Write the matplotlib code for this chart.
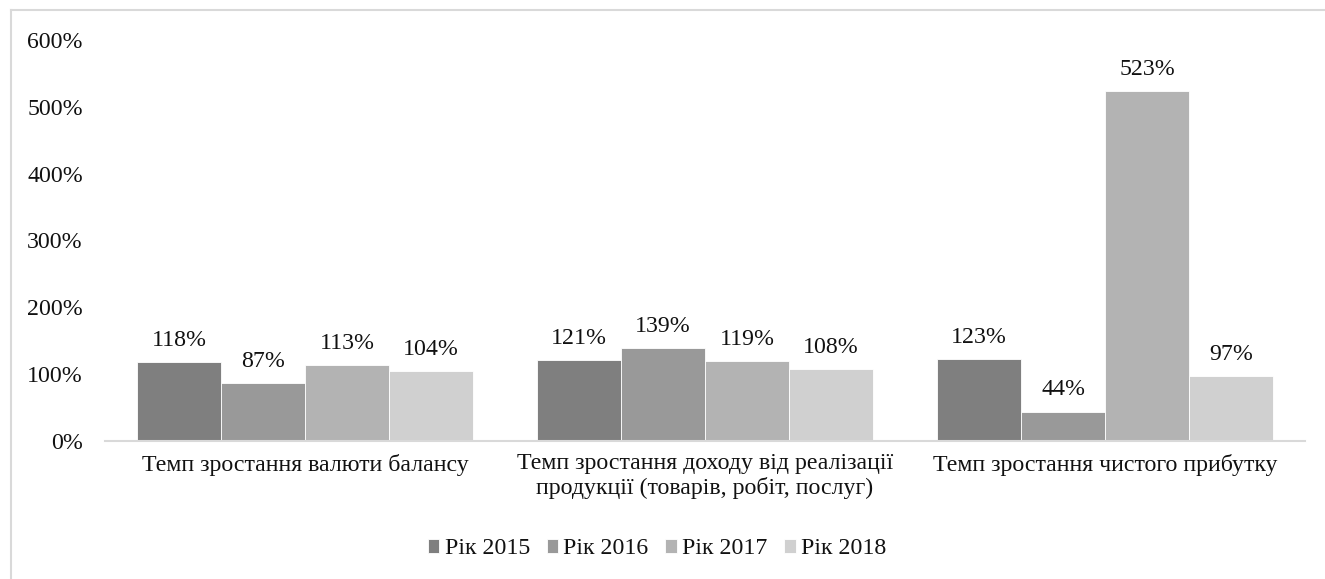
import matplotlib
matplotlib.use("Agg")
import matplotlib.pyplot as plt
from matplotlib.lines import Line2D
from matplotlib.font_manager import FontProperties
import numpy as np

plt.rcParams['font.family'] = ['Liberation Serif', 'DejaVu Serif']

categories = [
    "Темп зростання валюти балансу",
    "Темп зростання доходу від реалізації\nпродукції (товарів, робіт, послуг)",
    "Темп зростання чистого прибутку",
]
series_names = ["Рік 2015", "Рік 2016", "Рік 2017", "Рік 2018"]
values_2015 = [118, 121, 123]
values_2016 = [87, 139, 44]
values_2017 = [113, 119, 523]
values_2018 = [104, 108, 97]
series_values = [values_2015, values_2016, values_2017, values_2018]
colors = ["#7f7f7f", "#999999", "#b3b3b3", "#d0d0d0"]
y_ticks = [0, 100, 200, 300, 400, 500, 600]

W, H = 1325, 579
fig = plt.figure(figsize=(W / 100, H / 100), dpi=100)
ax = fig.add_axes([105 / W, 1 - 441 / H, 1200 / W, 401 / H])

fs = 17.2
x = np.arange(len(categories))
bar_w = 0.21
n = len(series_values)
for i, (name, vals, col) in enumerate(zip(series_names, series_values, colors)):
    offs = (i - (n - 1) / 2) * bar_w
    bars = ax.bar(x + offs, vals, width=bar_w, color=col, edgecolor="white",
                  linewidth=0.6, label=name, zorder=2)
    for b, v in zip(bars, vals):
        ax.annotate(f"{v}%", (b.get_x() + b.get_width() / 2, v),
                    xytext=(0, 8), textcoords="offset points",
                    ha="center", va="bottom", fontsize=fs, color="#111111")

ax.set_xlim(-0.5, len(categories) - 0.5)
ax.set_ylim(0, 600)
ax.set_yticks(y_ticks)
ax.set_yticklabels([f"{t}%" for t in y_ticks], fontsize=fs, color="#111111")
ax.set_xticks(x)
ax.set_xticklabels(categories, fontsize=fs, color="#111111", linespacing=1.12)
ax.tick_params(axis="y", length=0, pad=16)
ax.tick_params(axis="x", length=0, pad=9)
for s in ["top", "right", "left"]:
    ax.spines[s].set_visible(False)
ax.spines["bottom"].set_color("#d9d9d9")
ax.spines["bottom"].set_linewidth(1.5)
ax.spines["bottom"].set_zorder(3)

leg_font = FontProperties(family=['Liberation Serif', 'DejaVu Serif'], size=fs)
leg = fig.legend(loc="center", bbox_to_anchor=(657 / W, 1 - 549 / H), ncol=4,
                 frameon=False, prop=leg_font, handlelength=0.48, handleheight=0.48,
                 handletextpad=0.22, columnspacing=0.7)
for t in leg.get_texts():
    t.set_color("#111111")

# chart frame (top and left edges)
fig.add_artist(Line2D([11 / W, 11 / W], [0, 1 - 10 / H], transform=fig.transFigure,
                      color="#d9d9d9", lw=1.5))
fig.add_artist(Line2D([11 / W, 1], [1 - 10 / H, 1 - 10 / H], transform=fig.transFigure,
                      color="#d9d9d9", lw=1.5))

fig.savefig("out.png", dpi=100)
